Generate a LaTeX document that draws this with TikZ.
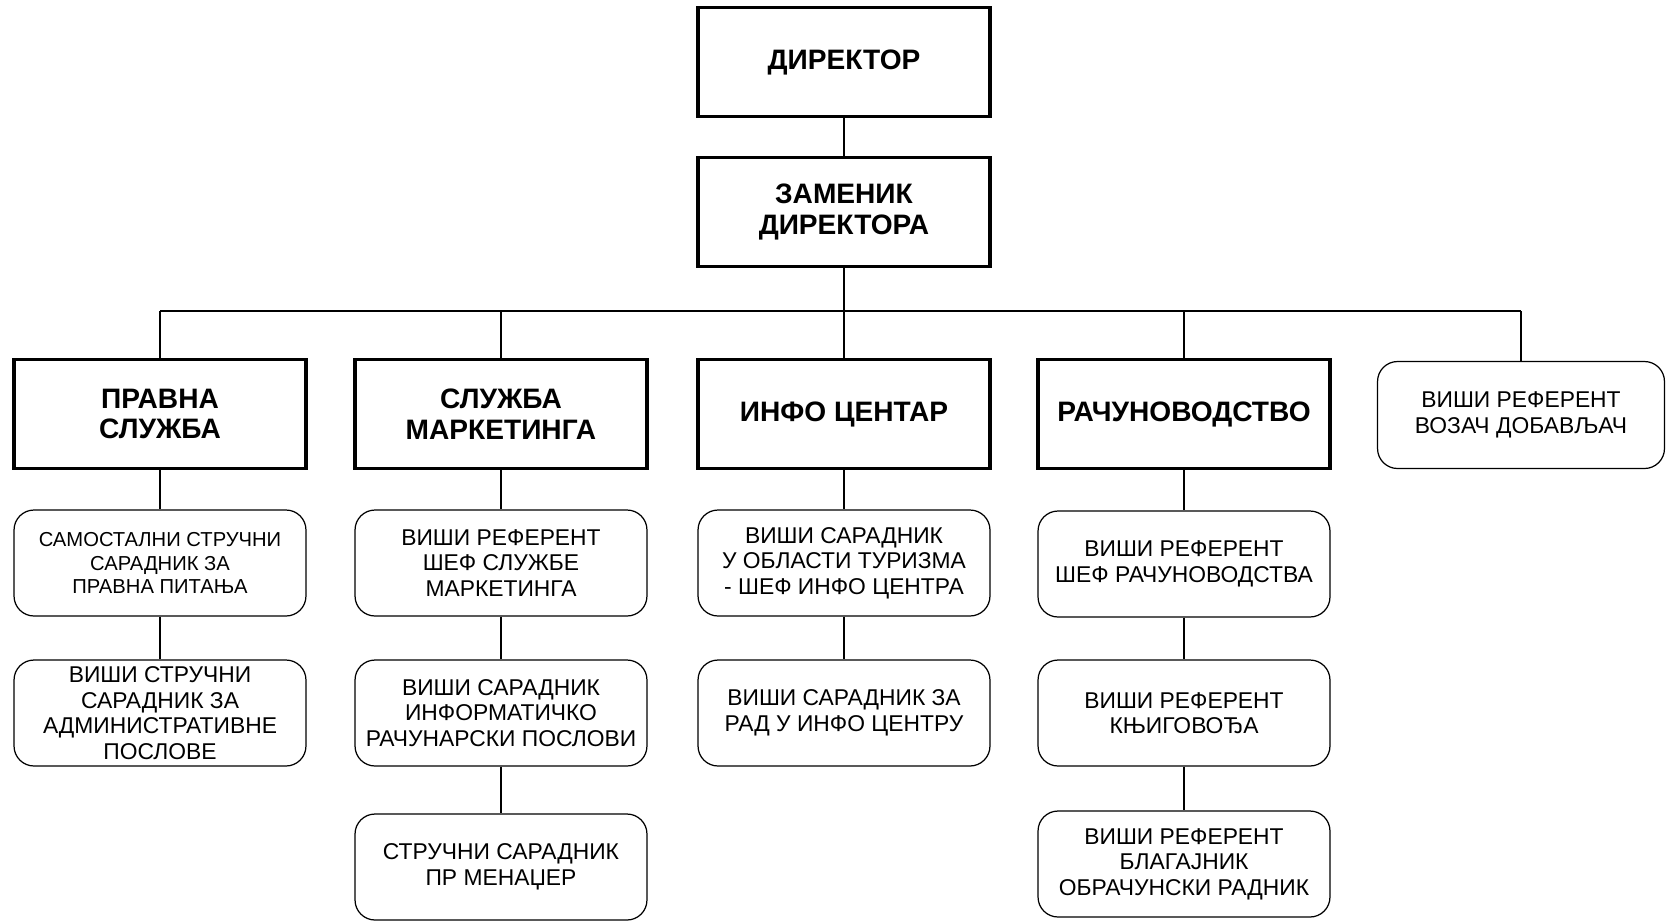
\documentclass[tikz,border=0pt]{standalone}
\usepackage{fontspec}
\setmainfont{Liberation Sans}
\usepackage{tikz}
\usetikzlibrary{positioning}

\begin{document}
\begin{tikzpicture}[x=0.02cm,y=-0.02cm,
    head/.style={draw,line width=2pt,minimum width=5.84cm,minimum height=2.18cm,inner sep=0pt,align=center,font=\fontsize{16}{17.5}\selectfont\bfseries},
    post/.style={draw,line width=0.7pt,rounded corners=0.4cm,minimum width=5.84cm,minimum height=2.12cm,inner sep=0pt,align=center,font=\fontsize{13}{14.5}\selectfont},
    link/.style={line width=0.6pt}]
  \useasboundingbox (0,0) rectangle (1666,921);
  \node[head] (dir) at (844,62) {ДИРЕКТОР};
  \node[head] (zam) at (844,212) {ЗАМЕНИК\\ДИРЕКТОРА};
  % sluzbe
  \node[head] (prav) at (160,414) {ПРАВНА\\СЛУЖБА};
  \node[head] (sluz) at (501,414) {СЛУЖБА\\МАРКЕТИНГА};
  \node[head] (info) at (844,414) {ИНФО ЦЕНТАР};
  \node[head] (racun) at (1184,414) {РАЧУНОВОДСТВО};
  \node[post,minimum width=5.74cm,minimum height=2.14cm] (vozac) at (1521,415) {ВИШИ РЕФЕРЕНТ\\ВОЗАЧ ДОБАВЉАЧ};
  % radna mesta
  \node[post,font=\fontsize{11.5}{13.3}\selectfont] (prav1) at (160,563) {САМОСТАЛНИ СТРУЧНИ\\САРАДНИК ЗА\\ПРАВНА ПИТАЊА};
  \node[post] (prav2) at (160,713) {ВИШИ СТРУЧНИ\\САРАДНИК ЗА\\АДМИНИСТРАТИВНЕ\\ПОСЛОВЕ};
  \node[post] (sluz1) at (501,563) {ВИШИ РЕФЕРЕНТ\\ШЕФ СЛУЖБЕ\\МАРКЕТИНГА};
  \node[post] (sluz2) at (501,713) {ВИШИ САРАДНИК\\ИНФОРМАТИЧКО\\РАЧУНАРСКИ ПОСЛОВИ};
  \node[post] (sluz3) at (501,867) {СТРУЧНИ САРАДНИК\\ПР МЕНАЏЕР};
  \node[post] (info1) at (844,563) {ВИШИ САРАДНИК\\У ОБЛАСТИ ТУРИЗМА\\- ШЕФ ИНФО ЦЕНТРА};
  \node[post] (info2) at (844,713) {ВИШИ САРАДНИК ЗА\\РАД У ИНФО ЦЕНТРУ};
  \node[post] (racun1) at (1184,564) {ВИШИ РЕФЕРЕНТ\\ШЕФ РАЧУНОВОДСТВА};
  \node[post] (racun2) at (1184,713) {ВИШИ РЕФЕРЕНТ\\КЊИГОВОЂА};
  \node[post] (racun3) at (1184,864) {ВИШИ РЕФЕРЕНТ\\БЛАГАЈНИК\\ОБРАЧУНСКИ РАДНИК};
  \coordinate (busl) at (160,311);
  \coordinate (busr) at (1521,311);
  \draw[link] (dir) -- (zam);
  \draw[link] (zam.south) -- (zam.south |- busl);
  \draw[link] (busl) -- (busr);
  \foreach \n in {prav,sluz,info,racun,vozac}
    \draw[link] (\n.north) -- (\n.north |- busl);
  \draw[link] (prav) -- (prav1) -- (prav2);
  \draw[link] (sluz) -- (sluz1) -- (sluz2) -- (sluz3);
  \draw[link] (info) -- (info1) -- (info2);
  \draw[link] (racun) -- (racun1) -- (racun2) -- (racun3);
\end{tikzpicture}
\end{document}
